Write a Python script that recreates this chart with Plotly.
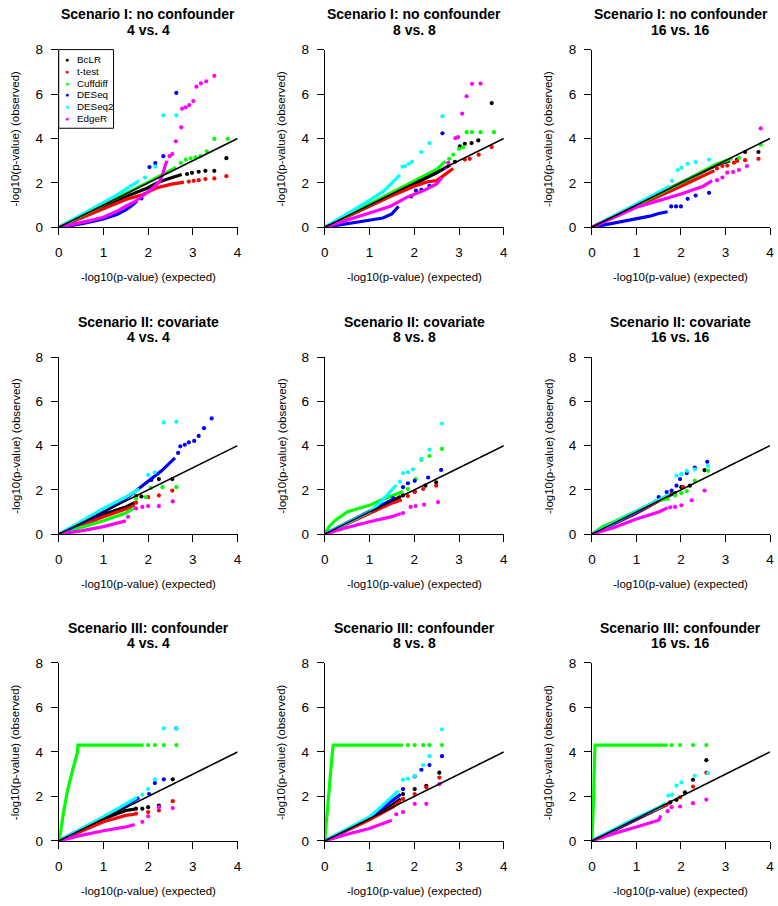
import plotly.graph_objects as go

W, H = 778, 906

METHODS = ["BcLR", "t-test", "Cuffdiff", "DESeq", "DESeq2", "EdgeR"]
COLORS = ["#000000", "#FF0000", "#00FF00", "#0000FF", "#00FFFF", "#FF00FF"]
X_TICKS = [0, 1, 2, 3, 4]
Y_TICKS = [0, 2, 4, 6, 8]
IDENTITY = [0, 4]

ROW_TITLES = ["Scenario I: no confounder", "Scenario II: covariate", "Scenario III: confounder"]
COL_TITLES = ["4 vs. 4", "8 vs. 8", "16 vs. 16"]

# each method: (dense part of the Q-Q curve, sparse tail points) as (expected, observed)
S1_4 = {
    "BcLR": ([(0, 0), (0.5, 0.45), (1, 0.9), (1.5, 1.38), (2, 1.78), (2.2, 2.0), (2.4, 2.15), (2.6, 2.3), (2.75, 2.38)],
             [(2.87, 2.4), (2.98, 2.45), (3.13, 2.5), (3.28, 2.54), (3.48, 2.54), (3.75, 3.11)]),
    "t-test": ([(0, 0), (0.5, 0.42), (1, 0.85), (1.5, 1.25), (1.85, 1.45), (2.2, 1.78), (2.5, 1.93), (2.8, 2.03)],
               [(2.91, 2.06), (3.02, 2.09), (3.13, 2.12), (3.28, 2.17), (3.48, 2.2), (3.75, 2.3)]),
    "Cuffdiff": ([(0, 0), (0.5, 0.52), (1, 1.03), (1.5, 1.53), (2, 2.03), (2.4, 2.45), (2.62, 2.7)],
                 [(2.73, 2.9), (2.84, 3.05), (2.95, 3.1), (3.06, 3.15), (3.17, 3.2), (3.31, 3.42), (3.48, 3.98), (3.78, 3.98)]),
    "DESeq": ([(0, 0), (0.3, 0.08), (0.6, 0.2), (1, 0.38), (1.3, 0.58), (1.5, 0.78), (1.65, 1.0), (1.75, 1.18)],
              [(1.85, 1.3), (2.03, 2.71), (2.16, 2.89), (2.34, 3.2), (2.63, 6.05)]),
    "DESeq2": ([(0, 0), (0.5, 0.55), (1, 1.08), (1.3, 1.45), (1.5, 1.72), (1.7, 2.0), (1.8, 2.1)],
               [(1.93, 2.24), (2.16, 2.73), (2.34, 5.04), (2.63, 5.04)]),
    "EdgeR": ([(0, 0), (0.3, 0.12), (0.7, 0.3), (1, 0.45), (1.3, 0.72), (1.5, 0.95), (1.7, 1.15), (1.9, 1.45),
               (2.1, 1.75), (2.25, 2.05), (2.32, 2.35), (2.37, 2.7), (2.42, 3.0)],
              [(2.48, 3.2), (2.54, 3.3), (2.62, 3.87), (2.74, 4.5), (2.76, 5.34), (2.84, 5.4), (2.92, 5.5),
               (3.01, 5.68), (3.08, 6.33), (3.18, 6.48), (3.3, 6.57), (3.48, 6.82)]),
}

S1_8 = {
    "BcLR": ([(0, 0), (1, 1.0), (2, 1.95), (2.5, 2.45), (2.8, 2.8)],
             [(2.91, 2.95), (3.02, 3.64), (3.13, 3.76), (3.28, 3.79), (3.43, 3.91), (3.73, 5.59)]),
    "t-test": ([(0, 0), (1, 0.95), (1.5, 1.42), (2, 1.85), (2.3, 2.05), (2.5, 2.1), (2.7, 2.4), (2.87, 2.65)],
               [(3.13, 3.05), (3.24, 3.08), (3.44, 3.27), (3.73, 3.61)]),
    "Cuffdiff": ([(0, 0), (1, 1.05), (2, 2.1), (2.5, 2.6), (2.7, 2.98)],
                 [(2.78, 3.08), (2.87, 3.27), (3.0, 3.53), (3.09, 3.6), (3.17, 4.28), (3.29, 4.28), (3.48, 4.28), (3.78, 4.28)]),
    "DESeq": ([(0, 0), (0.5, 0.15), (1, 0.3), (1.3, 0.42), (1.5, 0.6), (1.65, 0.95)],
              [(1.93, 1.39), (2.04, 1.65), (2.16, 1.68), (2.34, 1.87), (2.63, 4.23)]),
    "DESeq2": ([(0, 0), (0.5, 0.6), (1, 1.21), (1.33, 1.65), (1.55, 2.09), (1.68, 2.36)],
               [(1.74, 2.73), (1.8, 2.76), (1.88, 2.86), (1.95, 2.95), (2.16, 3.39), (2.34, 3.79), (2.63, 5.0)]),
    "EdgeR": ([(0, 0), (0.5, 0.32), (1, 0.65), (1.47, 0.95), (1.84, 1.36), (2.21, 1.65), (2.5, 1.95), (2.62, 2.24)],
              [(2.69, 2.68), (2.76, 2.9), (2.92, 4.01), (2.98, 4.06), (3.07, 5.12), (3.17, 5.9), (3.29, 6.46), (3.48, 6.47)]),
}

S1_16 = {
    "BcLR": ([(0, 0), (1, 1.0), (2, 2.0), (2.8, 2.8), (3.1, 3.0)],
             [(3.26, 3.05), (3.44, 3.39), (3.74, 3.39)]),
    "t-test": ([(0, 0), (1, 0.95), (2, 1.85), (2.5, 2.3), (2.75, 2.55)],
               [(2.81, 2.65), (2.93, 2.76), (3.04, 2.78), (3.19, 2.91), (3.26, 2.98), (3.44, 3.02), (3.74, 3.08)]),
    "Cuffdiff": ([(0, 0), (1, 1.0), (2, 2.0), (2.8, 2.85), (3.15, 3.1)],
                 [(3.3, 3.13), (3.79, 3.72)]),
    "DESeq": ([(0, 0), (0.5, 0.18), (1, 0.37), (1.3, 0.5), (1.5, 0.62), (1.7, 0.7)],
              [(1.78, 0.94), (1.89, 0.94), (2.0, 0.94), (2.15, 1.28), (2.33, 1.43), (2.63, 1.55)]),
    "DESeq2": ([(0, 0), (1, 1.05), (1.5, 1.55), (1.75, 1.85)],
               [(1.8, 2.09), (1.93, 2.58), (2.01, 2.68), (2.15, 2.86), (2.33, 2.94), (2.63, 3.05)]),
    "EdgeR": ([(0, 0), (0.5, 0.45), (1, 0.9), (1.5, 1.2), (2, 1.5), (2.5, 1.85), (2.7, 2.1)],
              [(2.81, 2.12), (2.93, 2.24), (3.04, 2.46), (3.17, 2.49), (3.3, 2.58), (3.48, 2.76), (3.79, 4.45)]),
}

S2_4 = {
    "BcLR": ([(0, 0), (1, 0.89), (1.5, 1.23), (1.7, 1.42)],
             [(1.73, 1.72), (1.85, 1.7), (2.07, 2.45), (2.24, 2.49), (2.54, 2.49)]),
    "t-test": ([(0, 0), (1, 0.79), (1.5, 1.13), (1.7, 1.3)],
               [(1.73, 1.42), (2.0, 1.67), (2.24, 1.75), (2.54, 1.97)]),
    "Cuffdiff": ([(0, 0), (0.5, 0.3), (1, 0.6), (1.5, 0.95), (1.7, 1.2)],
                 [(1.73, 1.6), (1.95, 1.67), (2.06, 2.09), (2.32, 2.12), (2.63, 2.12)]),
    "DESeq": ([(0, 0), (1, 1.0), (1.5, 1.6), (2, 2.41), (2.3, 2.86), (2.6, 3.45)],
              [(2.67, 3.67), (2.72, 3.97), (2.82, 4.04), (2.91, 4.15), (3.03, 4.21), (3.13, 4.44), (3.25, 4.79), (3.42, 5.23)]),
    "DESeq2": ([(0, 0), (1, 1.16), (1.5, 1.67), (1.8, 2.04)],
               [(2.0, 2.67), (2.15, 2.79), (2.35, 5.05), (2.63, 5.08)]),
    "EdgeR": ([(0, 0), (0.5, 0.15), (1, 0.34), (1.5, 0.6)],
              [(1.55, 0.78), (1.73, 1.16), (1.87, 1.23), (2.0, 1.27), (2.24, 1.27), (2.55, 1.48)]),
}

S2_8 = {
    "BcLR": ([(0, 0), (1, 1.0), (1.5, 1.5), (1.7, 1.7)],
             [(1.75, 1.75), (2.01, 1.93), (2.25, 2.19), (2.49, 2.34)]),
    "t-test": ([(0, 0), (1, 0.95), (1.5, 1.4), (1.65, 1.5)],
               [(1.68, 1.53), (1.86, 1.72), (2.01, 1.9), (2.2, 2.04), (2.49, 2.19)]),
    "Cuffdiff": ([(0, 0), (0.1, 0.35), (0.25, 0.64), (0.5, 1.0), (0.75, 1.16), (1, 1.3), (1.25, 1.53), (1.5, 1.75), (1.75, 1.93)],
                 [(1.86, 2.04), (2.03, 2.49), (2.16, 3.35), (2.34, 3.53), (2.62, 3.85)]),
    "DESeq": ([(0, 0), (1, 1.02), (1.5, 1.55)],
              [(1.53, 1.63), (1.75, 2.12), (1.86, 2.3), (2.01, 2.41), (2.31, 2.56), (2.6, 2.9)]),
    "DESeq2": ([(0, 0), (0.5, 0.5), (1, 1.0), (1.25, 1.45), (1.5, 1.97), (1.6, 2.22)],
               [(1.68, 2.37), (1.75, 2.76), (1.86, 2.8), (1.97, 2.93), (2.16, 3.4), (2.34, 3.82), (2.62, 5.0)]),
    "EdgeR": ([(0, 0), (0.5, 0.3), (1, 0.56), (1.5, 0.79), (1.7, 0.93)],
              [(1.75, 0.95), (1.92, 1.23), (2.03, 1.27), (2.22, 1.33), (2.53, 1.45)]),
}

S2_16 = {
    "BcLR": ([(0, 0), (1, 0.95), (1.5, 1.5), (1.9, 1.9)],
             [(2.01, 2.12), (2.2, 2.19), (2.53, 2.89)]),
    "t-test": ([(0, 0), (1, 0.95), (1.5, 1.5), (1.8, 1.85)],
               [(2.05, 2.12)]),
    "Cuffdiff": ([(0, 0), (0.25, 0.35), (0.5, 0.56), (1, 1.04), (1.5, 1.53), (1.75, 1.6)],
                 [(1.87, 1.75), (2.01, 1.85), (2.13, 1.94), (2.31, 2.41), (2.61, 2.86)]),
    "DESeq": ([(0, 0), (1, 0.98), (1.45, 1.5)],
              [(1.5, 1.67), (1.68, 1.9), (1.79, 1.97), (1.9, 2.19), (1.98, 2.49), (2.13, 2.76), (2.31, 3.01), (2.59, 3.27)]),
    "DESeq2": ([(0, 0), (1, 1.02), (1.5, 1.55), (1.75, 1.8)],
               [(1.9, 2.64), (2.01, 2.71), (2.13, 2.86), (2.31, 2.93), (2.61, 3.08)]),
    "EdgeR": ([(0, 0), (0.5, 0.3), (1, 0.68), (1.5, 1.0), (1.7, 1.19)],
              [(1.76, 1.21), (1.87, 1.23), (2.01, 1.3), (2.24, 1.53), (2.53, 1.97)]),
}

S3_4 = {
    "BcLR": ([(0, 0), (1, 1.0), (1.5, 1.37), (1.7, 1.43)],
             [(1.73, 1.45), (1.87, 1.45), (2.0, 1.52), (2.24, 1.59), (2.55, 2.77)]),
    "t-test": ([(0, 0), (1, 0.86), (1.5, 1.15), (1.7, 1.2)],
               [(1.73, 1.23), (2.0, 1.3), (2.24, 1.37), (2.55, 1.79)]),
    "Cuffdiff": ([(0, 0), (0.05, 0.5), (0.1, 1.2), (0.2, 2.3), (0.3, 3.1), (0.38, 3.7), (0.42, 4.0), (0.43, 4.31), (1.9, 4.31)],
                 [(2.0, 4.31), (2.15, 4.31), (2.35, 4.31), (2.63, 4.31)]),
    "DESeq": ([(0, 0), (1, 1.05), (1.5, 1.6), (1.8, 1.95)],
              [(2.02, 2.11), (2.15, 2.6), (2.35, 2.77), (2.63, 5.06)]),
    "DESeq2": ([(0, 0), (1, 1.08), (1.5, 1.67), (1.75, 1.96)],
               [(1.87, 2.08), (2.0, 2.33), (2.15, 2.77), (2.35, 5.06), (2.63, 5.06)]),
    "EdgeR": ([(0, 0), (0.5, 0.25), (1, 0.46), (1.5, 0.63), (1.7, 0.74)],
              [(1.87, 0.86), (2.0, 1.11), (2.24, 1.52), (2.55, 1.48)]),
}

S3_8 = {
    "BcLR": ([(0, 0), (1, 1.0), (1.5, 1.6), (1.7, 1.9)],
             [(1.75, 2.11), (2.01, 2.33), (2.27, 2.48), (2.56, 3.07)]),
    "t-test": ([(0, 0), (1, 0.95), (1.5, 1.5), (1.7, 1.8)],
               [(1.75, 1.89), (2.01, 2.11), (2.27, 2.41), (2.56, 2.85)]),
    "Cuffdiff": ([(0, 0), (0.05, 1.0), (0.1, 2.3), (0.15, 3.5), (0.18, 4.0), (0.19, 4.31), (1.75, 4.31)],
                 [(1.86, 4.31), (2.01, 4.31), (2.2, 4.31), (2.34, 4.31), (2.62, 4.31)]),
    "DESeq": ([(0, 0), (1, 1.05), (1.5, 1.8), (1.7, 2.1)],
              [(1.75, 2.33), (2.01, 2.9), (2.16, 3.2), (2.34, 3.41), (2.62, 3.81)]),
    "DESeq2": ([(0, 0), (1, 1.08), (1.25, 1.52), (1.5, 1.96), (1.65, 2.26)],
               [(1.75, 2.75), (1.86, 2.8), (2.01, 2.92), (2.2, 3.41), (2.34, 3.81), (2.62, 5.02)]),
    "EdgeR": ([(0, 0), (0.5, 0.3), (1, 0.56), (1.5, 0.93)],
              [(1.6, 1.2), (1.75, 1.3), (2.01, 1.67), (2.27, 1.67), (2.56, 2.55)]),
}

S3_16 = {
    "BcLR": ([(0, 0), (1, 0.95), (1.5, 1.45), (1.7, 1.65)],
             [(1.76, 1.74), (1.9, 1.85), (2.09, 2.18), (2.27, 2.75), (2.57, 3.63)]),
    "t-test": ([(0, 0), (1, 0.95), (1.5, 1.45), (1.75, 1.7)],
               [(1.98, 1.96), (2.27, 2.44), (2.57, 3.07)]),
    "Cuffdiff": ([(0, 0), (0.02, 0.7), (0.03, 1.3), (0.04, 2.0), (0.05, 3.0), (0.06, 4.0), (0.07, 4.31), (1.7, 4.31)],
                 [(1.79, 4.31), (1.98, 4.31), (2.27, 4.31), (2.57, 4.31)]),
    "DESeq": ([(0, 0), (1, 1.0), (1.5, 1.5)],
              []),
    "DESeq2": ([(0, 0), (1, 1.05), (1.5, 1.5), (1.65, 1.7)],
               [(1.72, 2.04), (1.8, 2.08), (1.9, 2.49), (2.01, 2.63), (2.31, 2.93), (2.61, 3.05)]),
    "EdgeR": ([(0, 0), (0.5, 0.34), (1, 0.63), (1.5, 0.93), (1.55, 1.15)],
              [(1.7, 1.34), (1.79, 1.52), (1.98, 1.55), (2.27, 1.7), (2.57, 1.86)]),
}

PANELS = [[S1_4, S1_8, S1_16], [S2_4, S2_8, S2_16], [S3_4, S3_8, S3_16]]

# layout geometry in pixels
COL_X = [(55.3, 236.0), (324.0, 505.0), (594.0, 774.0)]
ROW_Y = [(43.3, 224.0), (356.0, 536.0), (667.0, 848.0)]

def px(x):
    return x / W

def py(y):
    return 1 - y / H

FONT = "Liberation Sans, Arial, Helvetica, sans-serif"

fig = go.Figure()
annotations = []
layout = {}

k = 0
for r in range(3):
    for c in range(3):
        k += 1
        xa = "x" if k == 1 else f"x{k}"
        ya = "y" if k == 1 else f"y{k}"
        panel = PANELS[r][c]
        for m, col in zip(METHODS, COLORS):
            curve, tail = panel[m]
            fig.add_trace(go.Scatter(
                x=[p[0] for p in curve], y=[p[1] for p in curve], mode="lines",
                line=dict(color=col, width=3.2), xaxis=xa, yaxis=ya,
                showlegend=False, hoverinfo="skip"))
            if tail:
                fig.add_trace(go.Scatter(
                    x=[p[0] for p in tail], y=[p[1] for p in tail], mode="markers",
                    marker=dict(color=col, size=4.2, line=dict(width=0)),
                    xaxis=xa, yaxis=ya, showlegend=False, hoverinfo="skip",
                    cliponaxis=False))
        fig.add_trace(go.Scatter(
            x=IDENTITY, y=IDENTITY, mode="lines", line=dict(color="black", width=1.6),
            xaxis=xa, yaxis=ya, showlegend=False, hoverinfo="skip"))

        x0, x1 = COL_X[c]
        y0, y1 = ROW_Y[r]
        axis_common = dict(showline=True, linecolor="black", linewidth=1, ticks="outside",
                           ticklen=7, tickwidth=1, tickcolor="black", showgrid=False,
                           zeroline=False, tickfont=dict(family=FONT, size=13.5, color="black"),
                           fixedrange=True)
        layout["xaxis" if k == 1 else f"xaxis{k}"] = dict(
            domain=[px(x0), px(x1)], range=[0, 4], tickvals=X_TICKS, anchor=ya,
            ticklabelstandoff=6, **axis_common)
        layout["yaxis" if k == 1 else f"yaxis{k}"] = dict(
            domain=[py(y1), py(y0)], range=[0, 8], tickvals=Y_TICKS, anchor=xa,
            ticklabelstandoff=5, **axis_common)

        cx = (x0 + x1) / 2
        annotations.append(dict(text=f"<b>{ROW_TITLES[r]}</b>", x=px(cx), y=py(y0 - 36),
                                xref="paper", yref="paper", showarrow=False,
                                font=dict(family=FONT, size=14, color="black"),
                                xanchor="center", yanchor="middle"))
        annotations.append(dict(text=f"<b>{COL_TITLES[c]}</b>", x=px(cx), y=py(y0 - 20),
                                xref="paper", yref="paper", showarrow=False,
                                font=dict(family=FONT, size=14, color="black"),
                                xanchor="center", yanchor="middle"))
        annotations.append(dict(text="-log10(p-value) (expected)", x=px(cx), y=py(y1 + 51),
                                xref="paper", yref="paper", showarrow=False,
                                font=dict(family=FONT, size=11.5, color="black"),
                                xanchor="center", yanchor="middle"))
        annotations.append(dict(text="-log10(p-value) (observed)", x=px(x0 - 44), y=py((y0 + y1) / 2),
                                xref="paper", yref="paper", showarrow=False, textangle=-90,
                                font=dict(family=FONT, size=11.5, color="black"),
                                xanchor="center", yanchor="middle"))

# legend box in first panel
LEG_X0, LEG_X1, LEG_Y0, LEG_Y1 = 55.3, 110.7, 43.3, 123.3
shapes = [dict(type="rect", xref="paper", yref="paper", x0=px(LEG_X0), x1=px(LEG_X1),
               y0=py(LEG_Y1), y1=py(LEG_Y0), line=dict(color="black", width=1),
               fillcolor="white", layer="above")]
for i, (m, col) in enumerate(zip(METHODS, COLORS)):
    yc = 53.3 + i * 12.0
    annotations.append(dict(text="●", x=px(63.5), y=py(yc), xref="paper", yref="paper",
                            showarrow=False, font=dict(family=FONT, size=7, color=col),
                            xanchor="center", yanchor="middle"))
    annotations.append(dict(text=m, x=px(71.5), y=py(yc), xref="paper", yref="paper",
                            showarrow=False, font=dict(family=FONT, size=9.8, color="black"),
                            xanchor="left", yanchor="middle"))

fig.update_layout(width=W, height=H, margin=dict(l=0, r=0, t=0, b=0),
                  plot_bgcolor="white", paper_bgcolor="white",
                  annotations=annotations, shapes=shapes, **layout)

fig.write_html("out.html", config={"displayModeBar": False, "staticPlot": True},
               post_script="document.body.style.margin='0';document.body.style.padding='0';"
                           "document.body.style.overflow='hidden';")
